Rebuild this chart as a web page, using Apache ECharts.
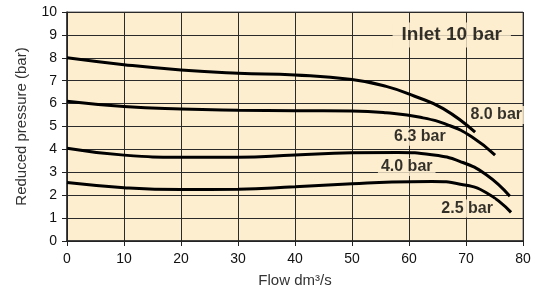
<!DOCTYPE html>
<html>
<head>
<meta charset="utf-8">
<script src="https://cdn.jsdelivr.net/npm/echarts@6/dist/echarts.min.js"></script>
<style>
  html, body { margin: 0; padding: 0; background: #fff; }
  #chart { width: 546px; height: 293px; }
</style>
</head>
<body>
<div id="chart"></div>
<script>
// flow points (dm3/s)
var flow8 = [0, 10, 20, 30, 40, 50, 56, 61, 66, 71.6];
var p8 = [8.0, 7.7, 7.47, 7.33, 7.25, 7.05, 6.75, 6.32, 5.78, 4.75];
var flow63 = [0, 10, 20, 30, 40, 50, 56, 62, 67, 71, 75.1];
var p63 = [6.1, 5.87, 5.76, 5.71, 5.69, 5.68, 5.6, 5.4, 5.05, 4.55, 3.75];
var flow40 = [0, 10, 20, 30, 40, 50, 58, 64, 69, 73.5, 77.7];
var p40 = [4.05, 3.75, 3.66, 3.66, 3.76, 3.85, 3.87, 3.77, 3.47, 2.9, 1.95];
var flow25 = [0, 10, 20, 30, 40, 50, 57, 64, 69, 73.5, 77.9];
var p25 = [2.55, 2.33, 2.25, 2.26, 2.37, 2.5, 2.58, 2.6, 2.48, 2.12, 1.25];

var curveNames = ['8.0 bar', '6.3 bar', '4.0 bar', '2.5 bar'];
var title = 'Inlet 10 bar';

var bg = '#fdeecf';
var font = 'Liberation Sans, Arial, sans-serif';

function pairs(xs, ys) {
  return xs.map(function (x, i) { return [x, ys[i]]; });
}

function curve(xs, ys) {
  return {
    type: 'line', data: pairs(xs, ys), smooth: 0.5, symbol: 'none',
    lineStyle: { color: '#000', width: 3 }, z: 3
  };
}

function tag(text, x, y, size, pad) {
  return {
    type: 'scatter', symbolSize: 0, data: [[x, y]], z: 5, silent: true,
    label: {
      show: true, position: 'inside', formatter: text,
      fontFamily: font, fontWeight: 'bold',
      fontSize: size, color: '#000', backgroundColor: bg,
      padding: pad
    }
  };
}

var chart = echarts.init(document.getElementById('chart'));
chart.setOption({
  animation: false,
  backgroundColor: '#fff',
  grid: { left: 67, right: 23, top: 12, bottom: 52, show: true, backgroundColor: bg, borderColor: '#666', borderWidth: 1 },
  xAxis: {
    type: 'value', min: 0, max: 80, interval: 10,
    name: 'Flow dm\u00b3/s', nameLocation: 'middle', nameGap: 32,
    nameTextStyle: { fontSize: 15, color: '#333', fontFamily: font },
    axisLine: { show: true, lineStyle: { color: '#222', width: 1.5 } },
    axisTick: { show: true, length: 5, lineStyle: { color: '#222' } },
    axisLabel: { fontSize: 14, color: '#111', margin: 11, fontFamily: font },
    splitLine: { show: true, lineStyle: { color: '#2a2a2a', width: 1 } }
  },
  yAxis: {
    type: 'value', min: 0, max: 10, interval: 1,
    name: 'Reduced pressure (bar)', nameLocation: 'middle', nameGap: 38,
    nameTextStyle: { fontSize: 15, color: '#333', fontFamily: font },
    axisLine: { show: true, lineStyle: { color: '#222', width: 1.5 } },
    axisTick: { show: true, length: 5, lineStyle: { color: '#222' } },
    axisLabel: { fontSize: 14, color: '#111', margin: 10, fontFamily: font },
    splitLine: { show: true, lineStyle: { color: '#2a2a2a', width: 1 } }
  },
  series: [
    curve(flow8, p8),
    curve(flow63, p63),
    curve(flow40, p40),
    curve(flow25, p25),
    tag(title, 67.5, 9, 19, [3, 9]),
    tag(curveNames[0], 75.3, 5.5, 16, [1, 2]),
    tag(curveNames[1], 61.9, 4.55, 16, [1, 2]),
    tag(curveNames[2], 59.6, 3.23, 16, [1, 3]),
    tag(curveNames[3], 70.2, 1.42, 16, [1, 2])
  ]
});
</script>
</body>
</html>
